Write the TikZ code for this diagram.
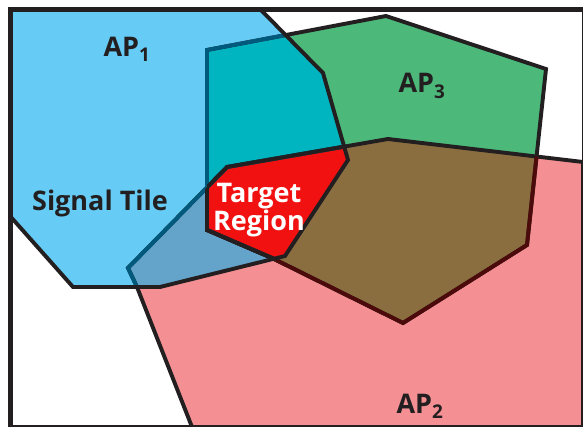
\documentclass[tikz,border=0pt]{standalone}
\usepackage{fontspec}
\setmainfont{Open Sans}
\definecolor{ink}{HTML}{231F20}
\definecolor{apone}{HTML}{66CCF5}
\definecolor{aptwo}{HTML}{F49093}
\definecolor{apthree}{HTML}{4CB97B}
\definecolor{onethree}{HTML}{00B5BF}
\definecolor{onetwo}{HTML}{64A4CB}
\definecolor{twothree}{HTML}{8B6E40}
\definecolor{target}{HTML}{F21111}
\definecolor{edgeblue}{HTML}{005A7D}
\definecolor{edgered}{HTML}{4D0A0A}
\def\regone{(10,9) -- (260,9) -- (323,73) -- (348,160) -- (285,256) -- (160,287) -- (73,287) -- (10,216) -- cycle}
\def\regtwo{(128,268) -- (227,167) -- (388,139) -- (583,162) -- (583,427) -- (192,427) -- (137,287) -- cycle}
\def\regthree{(207,50) -- (386,16) -- (546,69) -- (527,245) -- (403,323) -- (272,258) -- (207,230) -- cycle}
\begin{document}
\begin{tikzpicture}[x=1pt, y=-1pt,
  border/.style={line width=3.9pt},
  lbl/.style={font=\bfseries\fontsize{27}{28}\selectfont, text=ink, inner sep=0pt}]
\useasboundingbox (0,0) rectangle (583,427);
\fill[apone] \regone;
\fill[aptwo] \regtwo;
\fill[apthree] \regthree;
\begin{scope}
\clip \regone;
\fill[onethree] \regthree;
\fill[onetwo] \regtwo;
\end{scope}
\begin{scope}
\clip \regtwo;
\fill[twothree] \regthree;
\end{scope}
\begin{scope}
\clip \regone;
\clip \regtwo;
\fill[target] \regthree;
\end{scope}
\draw[border, ink] \regtwo;
\draw[border, ink] \regthree;
\begin{scope}
\clip \regone;
\draw[border, edgeblue] \regtwo;
\draw[border, edgeblue] \regthree;
\end{scope}
\begin{scope}
\clip \regtwo;
\draw[border, edgered] \regthree;
\end{scope}
\begin{scope}
\clip \regone;
\clip \regtwo;
\draw[border, ink] \regthree;
\end{scope}
\begin{scope}
\clip \regone;
\clip \regthree;
\draw[border, ink] \regtwo;
\end{scope}
\draw[border, ink] \regone;
\draw[ink, line width=5pt] (10.5,9.5) rectangle (584,427.5);
\node[lbl, anchor=base] (ap1) at (127,57) {AP\textsubscript{1}};
\node[lbl, anchor=base] (ap3) at (422,93) {AP\textsubscript{3}};
\node[lbl, anchor=base] (ap2) at (420,413) {AP\textsubscript{2}};
\node[lbl, anchor=base] (tile) at (100,211) {Signal Tile};
\node[lbl, text=white, align=center] (target) at (259,210) {Target\\Region};
\end{tikzpicture}
\end{document}
